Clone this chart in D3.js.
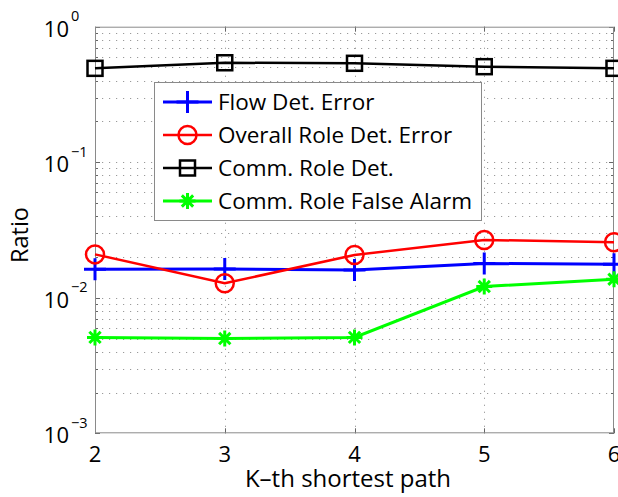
<!DOCTYPE html>
<html>
<head>
<meta charset="utf-8">
<script src="https://cdn.jsdelivr.net/npm/d3@7"></script>
<style>
  html, body { margin: 0; padding: 0; background: #fff; }
  svg { display: block; }
  text { font-family: "Open Sans", "Noto Sans", sans-serif; fill: #000; }
</style>
</head>
<body>
<svg id="chart" width="618" height="497"></svg>
<script>
// K-th shortest path index on the x axis
const kValues = [2, 3, 4, 5, 6];

// Ratios per series
const flowDetError       = [0.0162, 0.0163, 0.0160, 0.0179, 0.0177];
const overallRoleError   = [0.0209, 0.0128, 0.0207, 0.0267, 0.0257];
const commRoleDet        = [0.493, 0.542, 0.537, 0.507, 0.493];
const commRoleFalseAlarm = [0.0051, 0.0050, 0.0051, 0.0121, 0.0137];

const seriesNames  = ["Flow Det. Error", "Overall Role Det. Error", "Comm. Role Det.", "Comm. Role False Alarm"];
const seriesColors = ["#0000ff", "#ff0000", "#000000", "#00ff00"];
const seriesMarks  = ["plus", "circle", "square", "star"];

const xTicks = [2, 3, 4, 5, 6];
const yTicks = [1e-3, 1e-2, 1e-1, 1];
const yTickExps = ["\u22123", "\u22122", "\u22121", "0"];

const series = [flowDetError, overallRoleError, commRoleDet, commRoleFalseAlarm].map((vals, i) => ({
  name: seriesNames[i], color: seriesColors[i], mark: seriesMarks[i],
  points: kValues.map((k, j) => ({ k, v: vals[j] }))
}));

const svg = d3.select("#chart");
const plotLeft = 95, plotRight = 614, plotTop = 26.7, plotBottom = 433.3;

const x = d3.scaleLinear().domain([2, 6]).range([plotLeft, plotRight]);
const y = d3.scaleLog().domain([1e-3, 1]).range([plotBottom, plotTop]);

// minor log ticks: 2..9 times each decade
const minorTicks = [];
[1e-3, 1e-2, 1e-1].forEach(d => { for (let m = 2; m <= 9; m++) minorTicks.push(m * d); });

const grid = svg.append("g").attr("stroke", "#9a9a9a").attr("stroke-width", 1)
  .attr("stroke-dasharray", "1.2,5.8");
// horizontal dotted grid at minor and inner major ticks
grid.selectAll("line.h").data(minorTicks.concat([1e-2, 1e-1])).enter().append("line")
  .attr("x1", plotLeft).attr("x2", plotRight)
  .attr("y1", d => Math.round(y(d)) + 0.5).attr("y2", d => Math.round(y(d)) + 0.5);
// vertical dotted grid at inner x ticks
grid.selectAll("line.v").data(xTicks.slice(1, -1)).enter().append("line")
  .attr("y1", plotTop).attr("y2", plotBottom)
  .attr("x1", d => Math.round(x(d)) + 0.5).attr("x2", d => Math.round(x(d)) + 0.5);

// tick marks on all four sides, pointing inward
const ticks = svg.append("g").attr("stroke", "#666").attr("stroke-width", 1);
const majLen = 5, minLen = 3;
yTicks.forEach(d => {
  const yy = Math.round(y(d)) + 0.5;
  ticks.append("line").attr("x1", plotLeft).attr("x2", plotLeft + majLen).attr("y1", yy).attr("y2", yy);
  ticks.append("line").attr("x1", plotRight - majLen).attr("x2", plotRight).attr("y1", yy).attr("y2", yy);
});
minorTicks.forEach(d => {
  const yy = Math.round(y(d)) + 0.5;
  ticks.append("line").attr("x1", plotLeft).attr("x2", plotLeft + minLen).attr("y1", yy).attr("y2", yy);
  ticks.append("line").attr("x1", plotRight - minLen).attr("x2", plotRight).attr("y1", yy).attr("y2", yy);
});
xTicks.forEach(d => {
  const xx = Math.round(x(d)) + 0.5;
  ticks.append("line").attr("x1", xx).attr("x2", xx).attr("y1", plotBottom - majLen).attr("y2", plotBottom);
  ticks.append("line").attr("x1", xx).attr("x2", xx).attr("y1", plotTop).attr("y2", plotTop + majLen);
});

// axes frame
svg.append("rect").attr("x", plotLeft + 0.5).attr("y", plotTop + 0.5)
  .attr("width", plotRight - plotLeft - 1).attr("height", plotBottom - plotTop - 1)
  .attr("fill", "none").attr("stroke", "#8a8a8a").attr("stroke-width", 1);

// x tick labels
svg.append("g").selectAll("text").data(xTicks).enter().append("text")
  .attr("x", d => x(d)).attr("y", 462).attr("text-anchor", "middle")
  .attr("font-size", 22).text(d => d);

// y tick labels: 10 with superscript exponent
const yl = svg.append("g");
yTicks.forEach((d, i) => {
  const yy = y(d);
  yl.append("text").attr("x", 69).attr("y", yy + 10).attr("text-anchor", "end")
    .attr("font-size", 22).text("10");
  yl.append("text").attr("x", 71).attr("y", yy - 5.5).attr("text-anchor", "start")
    .attr("font-size", 14.5).text(yTickExps[i]);
});

// axis titles
svg.append("text").attr("x", 348).attr("y", 487).attr("text-anchor", "middle")
  .attr("font-size", 24).text("K\u2013th shortest path");
svg.append("text").attr("transform", "translate(28,235) rotate(-90)")
  .attr("text-anchor", "middle").attr("font-size", 23.5).text("Ratio");

// marker drawing
function drawMarker(g, kind, cx, cy, color) {
  if (kind === "plus") {
    g.append("path").attr("d", `M${cx - 11},${cy}H${cx + 11}M${cx},${cy - 11}V${cy + 11}`)
      .attr("stroke", color).attr("stroke-width", 3).attr("fill", "none");
  } else if (kind === "circle") {
    g.append("circle").attr("cx", cx).attr("cy", cy).attr("r", 9)
      .attr("stroke", color).attr("stroke-width", 2.5).attr("fill", "none");
  } else if (kind === "square") {
    g.append("rect").attr("x", cx - 7.5).attr("y", cy - 7.5).attr("width", 15).attr("height", 15)
      .attr("stroke", color).attr("stroke-width", 2.5).attr("fill", "none");
  } else if (kind === "star") {
    const r = 8, s = r * Math.SQRT1_2;
    g.append("path").attr("d",
      `M${cx - r},${cy}H${cx + r}M${cx},${cy - r}V${cy + r}` +
      `M${cx - s},${cy - s}L${cx + s},${cy + s}M${cx - s},${cy + s}L${cx + s},${cy - s}`)
      .attr("stroke", color).attr("stroke-width", 3).attr("fill", "none");
  }
}

const line = d3.line().x(d => x(d.k)).y(d => y(d.v));
const plot = svg.append("g");
series.forEach(s => {
  const g = plot.append("g");
  g.append("path").datum(s.points).attr("d", line)
    .attr("fill", "none").attr("stroke", s.color)
    .attr("stroke-width", s.mark === "plus" || s.mark === "star" ? 3 : 2.5);
  s.points.forEach(p => drawMarker(g, s.mark, x(p.k), y(p.v), s.color));
});

// legend
const lg = svg.append("g");
lg.append("rect").attr("x", 154.5).attr("y", 82.5).attr("width", 327).attr("height", 138)
  .attr("fill", "#fff").attr("stroke", "#8a8a8a").attr("stroke-width", 1);
series.forEach((s, i) => {
  const ly = 102 + i * 33;
  lg.append("line").attr("x1", 163).attr("x2", 212).attr("y1", ly).attr("y2", ly)
    .attr("stroke", s.color).attr("stroke-width", s.mark === "plus" || s.mark === "star" ? 3 : 2.5);
  drawMarker(lg, s.mark, 187.5, ly, s.color);
  lg.append("text").attr("x", 218).attr("y", ly + 8).attr("font-size", 22.5).text(s.name);
});
</script>
</body>
</html>
